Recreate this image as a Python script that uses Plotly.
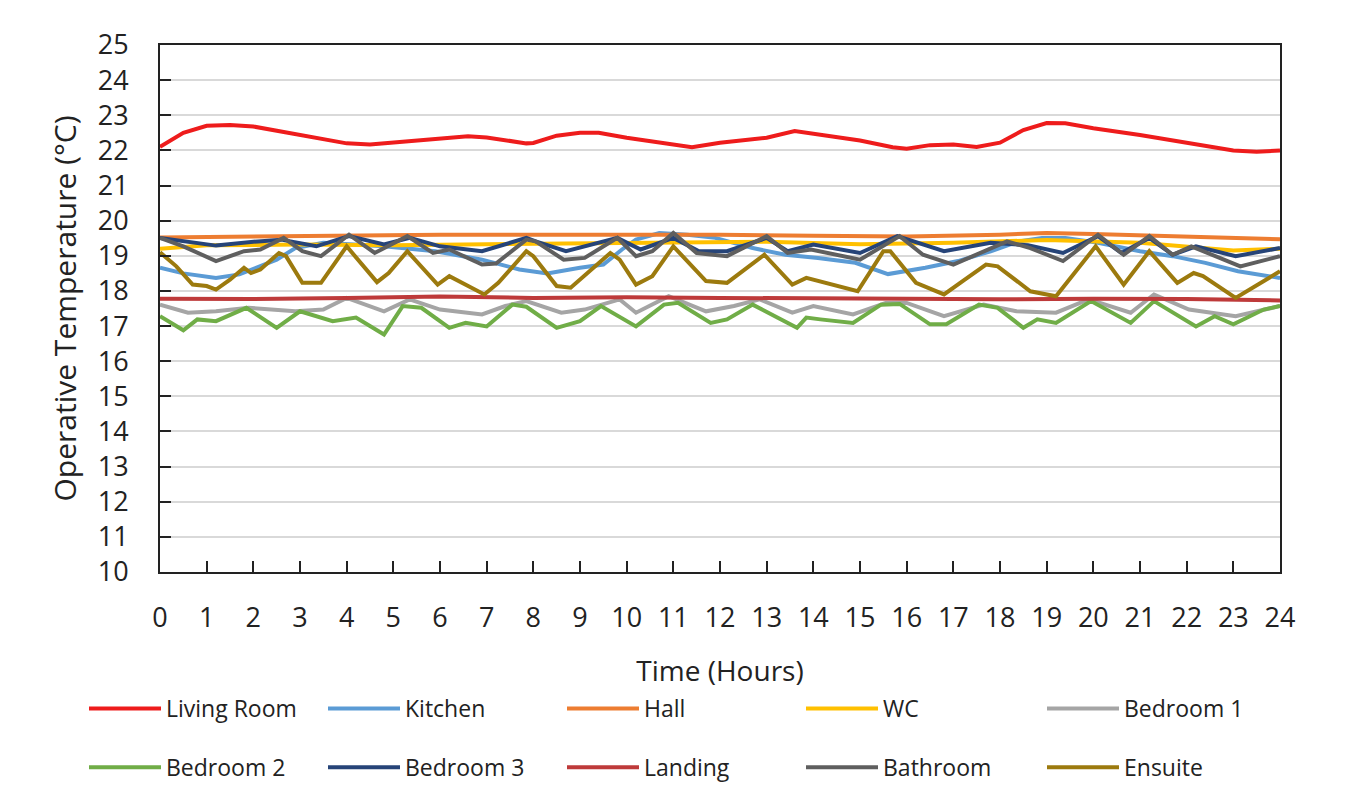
import plotly.graph_objects as go

# ---------------- data ----------------
living_t = [0,0.5,1,1.5,2,3,4,4.5,5,6,6.6,7,7.85,8,8.5,9,9.4,10,11,11.4,12,13,13.6,14,15,15.7,16,16.5,17,17.5,18,18.5,19,19.4,20,21,22,23,23.5,24]
living_v = [22.1,22.5,22.7,22.72,22.68,22.45,22.2,22.17,22.22,22.32,22.4,22.37,22.2,22.21,22.42,22.5,22.5,22.36,22.18,22.09,22.22,22.36,22.55,22.48,22.28,22.09,22.05,22.15,22.17,22.1,22.22,22.58,22.78,22.77,22.63,22.44,22.22,22.0,21.96,22.0]

kitchen_t = [0,0.5,1.2,1.7,2.5,2.9,3.5,4.8,5.9,6.9,7.7,8.3,9,9.5,9.9,10.2,10.7,11.3,11.9,12.7,13.4,14.1,14.9,15.6,16.4,17.1,17.8,18.4,18.9,19.4,20.1,21,21.7,22.4,23.1,24]
kitchen_v = [18.66,18.5,18.37,18.47,18.89,19.22,19.37,19.27,19.13,18.89,18.61,18.5,18.66,18.75,19.18,19.46,19.65,19.6,19.51,19.22,19.03,18.94,18.8,18.48,18.66,18.85,19.13,19.41,19.51,19.51,19.37,19.13,18.99,18.8,18.56,18.37]

hall_t = [0,2,4,6,8,10,12,14,16,18,19,20,22,24]
hall_v = [19.52,19.55,19.58,19.6,19.6,19.6,19.6,19.57,19.55,19.6,19.65,19.62,19.55,19.47]

wc_t = [0,1,3,5,7,9,11,13,15,17,19,21,23,24]
wc_v = [19.2,19.3,19.32,19.3,19.33,19.35,19.37,19.4,19.33,19.37,19.45,19.37,19.15,19.2]

bed1_t = [0,0.6,1.2,1.9,2.9,3.5,4,4.8,5.35,6,6.9,7.4,7.85,8.6,9.1,9.85,10.2,10.9,11.7,12.3,12.85,13.55,14,14.85,15.55,16,16.8,17.65,18.35,19.2,19.9,20.8,21.3,22.05,23.05,24]
bed1_v = [17.61,17.38,17.42,17.52,17.42,17.47,17.8,17.42,17.76,17.47,17.33,17.57,17.71,17.38,17.47,17.76,17.38,17.85,17.42,17.57,17.76,17.38,17.57,17.33,17.66,17.66,17.28,17.61,17.42,17.38,17.76,17.38,17.9,17.47,17.28,17.57]

bed2_t = [0,0.5,0.8,1.2,1.85,2.5,3,3.7,4.2,4.8,5.2,5.6,6.2,6.55,7,7.55,7.85,8.5,9,9.45,10.2,10.8,11.1,11.8,12.15,12.7,13.65,13.85,14.15,14.85,15.45,15.85,16.5,16.85,17.55,17.95,18.5,18.8,19.2,19.95,20.8,21.3,22.2,22.6,23,23.65,24]
bed2_v = [17.28,16.88,17.19,17.14,17.52,16.95,17.42,17.14,17.24,16.76,17.57,17.52,16.95,17.09,16.99,17.61,17.55,16.95,17.14,17.57,16.99,17.61,17.66,17.09,17.19,17.61,16.95,17.24,17.19,17.09,17.61,17.63,17.05,17.05,17.61,17.52,16.95,17.19,17.09,17.71,17.09,17.71,16.99,17.28,17.05,17.47,17.57]

bed3_t = [0,1.2,2.1,2.6,3.35,4.05,4.8,5.35,6,6.9,7.85,8.05,8.7,9.8,10.3,11,11.55,12.15,13,13.45,14,15,15.8,16.8,17.8,18.6,19.35,20.1,20.6,21.2,21.7,22.2,23.05,24]
bed3_v = [19.51,19.29,19.41,19.46,19.27,19.56,19.32,19.51,19.27,19.13,19.51,19.41,19.13,19.51,19.18,19.51,19.13,19.13,19.51,19.13,19.32,19.08,19.56,19.13,19.37,19.3,19.08,19.56,19.08,19.51,19.03,19.27,18.99,19.22]

landing_t = [0,2,4,6,8,10,12,14,16,18,20,22,24]
landing_v = [17.78,17.77,17.8,17.84,17.8,17.82,17.8,17.8,17.78,17.76,17.78,17.77,17.73]

bath_t = [0,0.5,1.2,1.8,2.15,2.65,3.05,3.45,4.05,4.6,5.3,5.85,6.2,6.9,7.2,7.85,8.05,8.65,9.1,9.8,10.2,10.55,11,11.5,12.15,13,13.45,13.95,15,15.85,16.35,17,18.15,18.65,19.35,20.1,20.65,21.2,21.7,22.1,23.15,24]
bath_v = [19.51,19.27,18.85,19.13,19.18,19.51,19.13,18.99,19.6,19.08,19.56,19.08,19.18,18.75,18.78,19.46,19.41,18.89,18.94,19.51,18.99,19.13,19.65,19.08,18.99,19.56,19.08,19.18,18.89,19.56,19.03,18.75,19.41,19.22,18.85,19.6,19.03,19.56,19.03,19.27,18.7,18.99]

ensuite_t = [0,0.35,0.7,1,1.2,1.5,1.8,1.95,2.15,2.55,2.7,3.05,3.45,4,4.65,4.9,5.3,5.95,6.2,6.95,7.25,7.85,8,8.5,8.8,9.15,9.65,9.85,10.2,10.55,11,11.7,12.15,12.95,13.55,13.85,14.95,15.5,15.65,16.2,16.8,17.2,17.7,17.95,18.65,19.2,20.05,20.65,21.2,21.8,22.15,22.35,23.05,24]
ensuite_v = [19.1,18.7,18.18,18.14,18.04,18.32,18.66,18.51,18.61,19.08,18.99,18.23,18.23,19.27,18.25,18.51,19.13,18.18,18.42,17.9,18.23,19.13,18.99,18.14,18.09,18.51,19.08,18.89,18.18,18.42,19.27,18.28,18.23,19.03,18.18,18.37,17.99,19.13,19.13,18.23,17.9,18.28,18.75,18.7,17.99,17.85,19.27,18.18,19.13,18.23,18.51,18.42,17.8,18.56]

series_names = ["Living Room", "Kitchen", "Hall", "WC", "Bedroom 1",
                "Bedroom 2", "Bedroom 3", "Landing", "Bathroom", "Ensuite"]
series_t = [living_t, kitchen_t, hall_t, wc_t, bed1_t, bed2_t, bed3_t, landing_t, bath_t, ensuite_t]
series_v = [living_v, kitchen_v, hall_v, wc_v, bed1_v, bed2_v, bed3_v, landing_v, bath_v, ensuite_v]
series_colors = ["#EE1C1C", "#5B9BD5", "#ED7D31", "#FFC000", "#A5A5A5",
                 "#70AD47", "#264478", "#BE3A3A", "#5F5F5F", "#9C7A0E"]

x_ticks = list(range(0, 25))
y_ticks = list(range(10, 26))

x_title = "Time (Hours)"
y_title = "Operative Temperature (°C)"

# legend column assignment (5 columns x 2 rows)
legend_ids = ["legend", "legend2", "legend3", "legend4", "legend5",
              "legend", "legend2", "legend3", "legend4", "legend5"]

FONT = "Open Sans"
INK = "#222222"

fig = go.Figure()
for i, (name, t, v, c) in enumerate(zip(series_names, series_t, series_v, series_colors)):
    fig.add_trace(go.Scatter(
        x=t, y=v, name=name, mode="lines",
        line=dict(color=c, width=4),
        legend=legend_ids[i],
        legendgroup=f"g{i}",
        legendrank=(i // 5) + 1,
    ))

col_x = [84, 323, 562, 801, 1042]
leg_common = dict(
    orientation="v", xref="container", yref="container",
    yanchor="top", xanchor="left", bgcolor="rgba(0,0,0,0)",
    font=dict(family=FONT, size=23, color=INK),
    tracegroupgap=26, itemwidth=72,
)
legends = {}
for k, lid in enumerate(["legend", "legend2", "legend3", "legend4", "legend5"]):
    legends[lid] = dict(x=col_x[k] / 1360, y=1 - 687 / 800, **leg_common)

fig.update_layout(
    width=1360, height=800,
    margin=dict(l=160, r=80, t=45, b=228, autoexpand=False),
    paper_bgcolor="white", plot_bgcolor="white",
    font=dict(family=FONT, color=INK),
    showlegend=True,
    **legends,
)

fig.add_annotation(
    text=y_title, textangle=-90, showarrow=False,
    xref="paper", yref="paper", x=0, y=0.5, xshift=-96,
    xanchor="center", yanchor="middle",
    font=dict(family=FONT, size=30, color=INK),
)

fig.update_xaxes(
    range=[0, 24], tickvals=x_ticks, ticktext=[str(v) for v in x_ticks],
    ticks="inside", ticklen=11, tickwidth=2, tickcolor=INK,
    showline=True, linecolor=INK, linewidth=2, mirror=True,
    showgrid=False, zeroline=False,
    tickfont=dict(family=FONT, size=27, color=INK),
    ticklabelstandoff=21,
    title=dict(text=x_title, font=dict(family=FONT, size=28, color=INK), standoff=27),
)
fig.update_yaxes(
    range=[10, 25], tickvals=y_ticks, ticktext=[str(v) for v in y_ticks],
    ticks="inside", ticklen=11, tickwidth=2, tickcolor=INK,
    showline=True, linecolor=INK, linewidth=2, mirror=True,
    showgrid=True, gridcolor="#D9D9D9", gridwidth=1.5, zeroline=False,
    tickfont=dict(family=FONT, size=27, color=INK),
    ticklabelstandoff=24,
)

fig.write_html("out.html")
